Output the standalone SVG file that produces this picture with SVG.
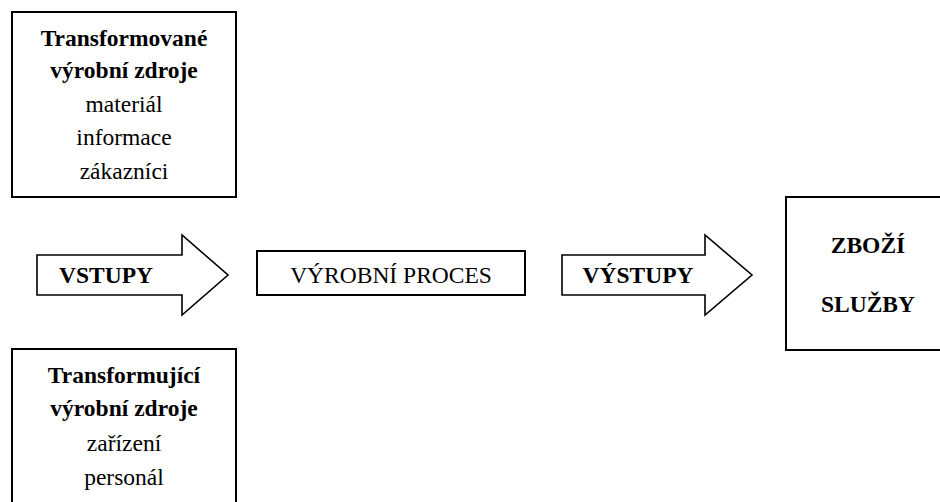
<svg xmlns="http://www.w3.org/2000/svg" width="940" height="502" viewBox="0 0 940 502">
<style>
.box{fill:#fff;stroke:#000;stroke-width:2}
.arr{fill:#fff;stroke:#000;stroke-width:1.6;stroke-linejoin:miter}
text{font-family:"Liberation Serif","Times New Roman",serif;font-size:23.5px;fill:#000;text-anchor:middle}
.b{font-weight:bold}
</style>
<rect width="940" height="502" fill="#fff"/>
<g id="transformovane">
<rect class="box" x="12" y="12" width="224" height="185"/>
<text class="b" x="124" y="46">Transformované</text>
<text class="b" x="124" y="78">výrobní zdroje</text>
<text x="124" y="112">materiál</text>
<text x="124" y="145">informace</text>
<text x="124" y="179">zákazníci</text>
</g>
<g id="transformujici">
<rect class="box" x="12" y="349" width="224" height="170"/>
<text class="b" x="124" y="383">Transformující</text>
<text class="b" x="124" y="416">výrobní zdroje</text>
<text x="124" y="451">zařízení</text>
<text x="124" y="485">personál</text>
</g>
<g id="connectors">
<g id="vstupy">
<path class="arr" d="M37,255 H182 V235 L228,275 L182,315 V295 H37 Z"/>
<text class="b" x="106" y="283">VSTUPY</text>
</g>
<g id="vystupy">
<path class="arr" d="M562,255 H705 V235 L752,275 L705,315 V295 H562 Z"/>
<text class="b" x="638" y="283">VÝSTUPY</text>
</g>
</g>
<g id="proces">
<rect class="box" x="257" y="251" width="268" height="44"/>
<text x="391" y="283">VÝROBNÍ PROCES</text>
</g>
<g id="vystup-box">
<rect class="box" x="786" y="197" width="170" height="153"/>
<text class="b" x="868" y="253">ZBOŽÍ</text>
<text class="b" x="868" y="312">SLUŽBY</text>
</g>
</svg>
